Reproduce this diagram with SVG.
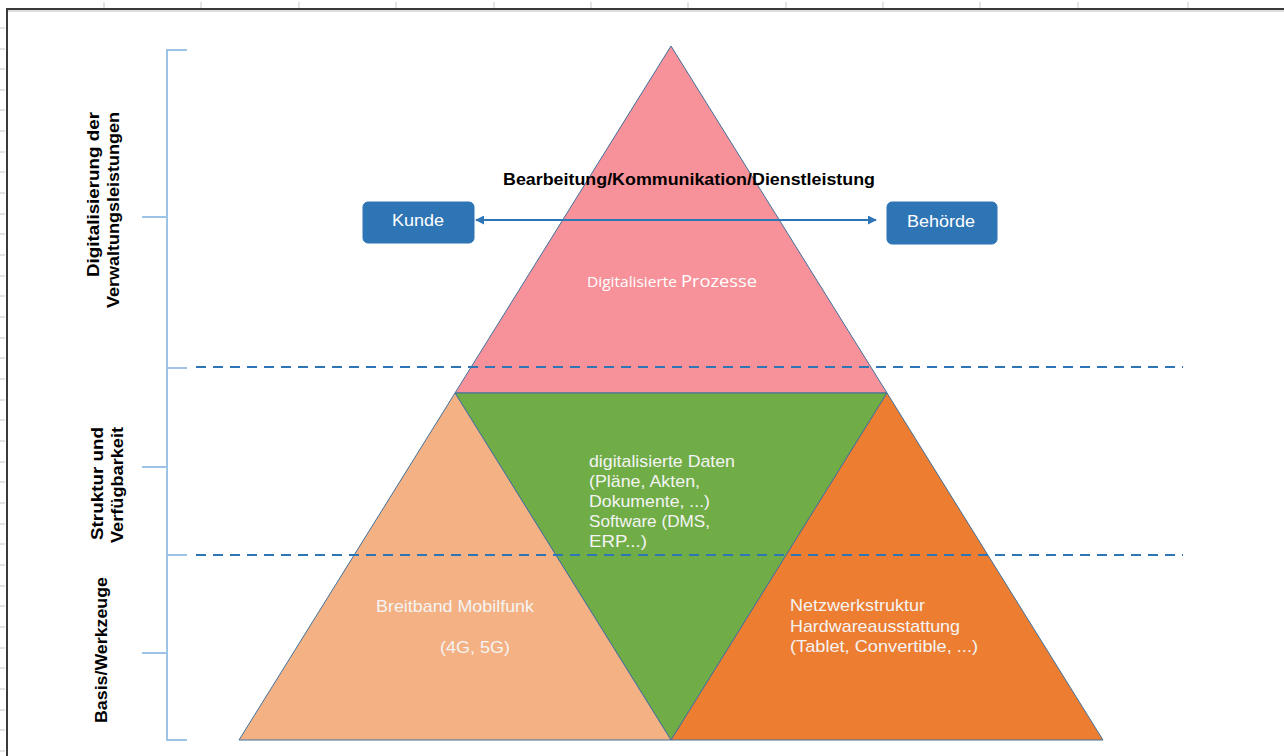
<svg xmlns="http://www.w3.org/2000/svg" width="1284" height="756" viewBox="0 0 1284 756">
<defs>
<style>
.tick{stroke:#c8c8c8;stroke-width:1}
.brk{stroke:#9dc3e6;stroke-width:2;fill:none}
.dash{stroke:#2e75b6;stroke-width:2;stroke-dasharray:10 7;fill:none}
.tri{stroke:#41719c;stroke-width:1}
.side{font-family:"Liberation Sans",Arial,sans-serif;font-weight:bold;font-size:16px;fill:#000}
.w{font-family:"Liberation Sans",Arial,sans-serif;font-size:17px;fill:#f4f4f4}
.box{fill:#2e75b6;stroke:#2e75b6}
.boxt{font-family:"Liberation Sans",Arial,sans-serif;font-size:17px;fill:#fff;text-anchor:middle}
</style>
<marker id="ah" viewBox="0 0 10 10" refX="9" refY="5" markerWidth="9" markerHeight="9" markerUnits="userSpaceOnUse" orient="auto-start-reverse">
<path d="M0,0 L10,5 L0,10 z" fill="#2e75b6"/>
</marker>
</defs>
<rect x="0" y="0" width="1284" height="756" fill="#fff"/>
<g id="frame">
<g class="tick">
<line x1="104" y1="2" x2="104" y2="8"/><line x1="201" y1="2" x2="201" y2="8"/><line x1="299" y1="2" x2="299" y2="8"/><line x1="396" y1="2" x2="396" y2="8"/><line x1="494" y1="2" x2="494" y2="8"/><line x1="591" y1="2" x2="591" y2="8"/><line x1="688" y1="2" x2="688" y2="8"/><line x1="786" y1="2" x2="786" y2="8"/><line x1="883" y1="2" x2="883" y2="8"/><line x1="980" y1="2" x2="980" y2="8"/><line x1="1078" y1="2" x2="1078" y2="8"/><line x1="1188" y1="2" x2="1188" y2="8"/>
<line x1="0" y1="28" x2="5" y2="28"/><line x1="0" y1="49" x2="5" y2="49"/><line x1="0" y1="69" x2="5" y2="69"/><line x1="0" y1="90" x2="5" y2="90"/><line x1="0" y1="110" x2="5" y2="110"/><line x1="0" y1="131" x2="5" y2="131"/><line x1="0" y1="152" x2="5" y2="152"/><line x1="0" y1="172" x2="5" y2="172"/><line x1="0" y1="193" x2="5" y2="193"/><line x1="0" y1="214" x2="5" y2="214"/><line x1="0" y1="234" x2="5" y2="234"/><line x1="0" y1="255" x2="5" y2="255"/><line x1="0" y1="276" x2="5" y2="276"/><line x1="0" y1="296" x2="5" y2="296"/><line x1="0" y1="317" x2="5" y2="317"/><line x1="0" y1="338" x2="5" y2="338"/><line x1="0" y1="358" x2="5" y2="358"/><line x1="0" y1="379" x2="5" y2="379"/><line x1="0" y1="400" x2="5" y2="400"/><line x1="0" y1="420" x2="5" y2="420"/><line x1="0" y1="441" x2="5" y2="441"/><line x1="0" y1="462" x2="5" y2="462"/><line x1="0" y1="482" x2="5" y2="482"/><line x1="0" y1="503" x2="5" y2="503"/><line x1="0" y1="524" x2="5" y2="524"/><line x1="0" y1="544" x2="5" y2="544"/><line x1="0" y1="565" x2="5" y2="565"/><line x1="0" y1="586" x2="5" y2="586"/><line x1="0" y1="606" x2="5" y2="606"/><line x1="0" y1="627" x2="5" y2="627"/><line x1="0" y1="648" x2="5" y2="648"/><line x1="0" y1="668" x2="5" y2="668"/><line x1="0" y1="689" x2="5" y2="689"/><line x1="0" y1="710" x2="5" y2="710"/><line x1="0" y1="730" x2="5" y2="730"/><line x1="0" y1="751" x2="5" y2="751"/>
</g>
<path d="M7,756 V9 H1284" fill="none" stroke="#3a3a3a" stroke-width="2"/>
<line x1="8" y1="11" x2="1284" y2="11" stroke="#bbb" stroke-width="1"/>
</g>
<g id="bracket">
<path class="brk" d="M187,50 H167 V740 H187 M142,217 H167 M167,368 H187 M142,467 H167 M167,555 H187 M142,653 H167"/>
</g>
<g id="labels-left">
<text class="side" transform="translate(99,112) rotate(-90)" text-anchor="end" textLength="165" lengthAdjust="spacingAndGlyphs">Digitalisierung der</text>
<text class="side" transform="translate(119,112) rotate(-90)" text-anchor="end" textLength="196" lengthAdjust="spacingAndGlyphs">Verwaltungsleistungen</text>
<text class="side" transform="translate(103,427) rotate(-90)" text-anchor="end" textLength="113" lengthAdjust="spacingAndGlyphs">Struktur und</text>
<text class="side" transform="translate(123,427) rotate(-90)" text-anchor="end" textLength="116" lengthAdjust="spacingAndGlyphs">Verfügbarkeit</text>
<text class="side" transform="translate(107,650) rotate(-90)" text-anchor="middle" textLength="146" lengthAdjust="spacingAndGlyphs">Basis/Werkzeuge</text>
</g>
<g id="tri-top"><polygon class="tri" points="671,46 887,393 455,393" fill="#f8929a"/></g>
<g id="tri-mid"><polygon class="tri" points="455,393 887,393 671,740" fill="#70ad47"/></g>
<g id="tri-left"><polygon class="tri" points="455,393 671,740 239,740" fill="#f4b183"/></g>
<g id="tri-right"><polygon class="tri" points="887,393 1103,740 671,740" fill="#ed7d31"/></g>
<g id="connectors">
<line class="dash" x1="196" y1="367" x2="1183" y2="367"/>
<line class="dash" x1="196" y1="555" x2="1183" y2="555"/>
<line x1="476" y1="220" x2="876" y2="220" stroke="#2e75b6" stroke-width="2" marker-start="url(#ah)" marker-end="url(#ah)"/>
</g>
<g id="title"><text x="503" y="185" font-family="Liberation Sans,Arial,sans-serif" font-weight="bold" font-size="17" fill="#000" textLength="372" lengthAdjust="spacingAndGlyphs">Bearbeitung/Kommunikation/Dienstleistung</text></g>
<g id="kunde"><rect class="box" x="363" y="202" width="111" height="41" rx="5"/><text class="boxt" x="418" y="226" textLength="52" lengthAdjust="spacingAndGlyphs">Kunde</text></g>
<g id="behoerde"><rect class="box" x="887" y="202" width="110" height="42" rx="5"/><text class="boxt" x="941" y="227" textLength="68" lengthAdjust="spacingAndGlyphs">Behörde</text></g>
<g id="txt-top"><text x="587" y="287" font-family="'Open Sans',sans-serif" fill="#fff" textLength="170" lengthAdjust="spacingAndGlyphs"><tspan font-size="14">Digitalisierte </tspan><tspan font-size="16.5">Prozesse</tspan></text></g>
<g id="txt-mid">
<text class="w" x="589" y="467" textLength="146" lengthAdjust="spacingAndGlyphs">digitalisierte Daten</text>
<text class="w" x="589" y="487" textLength="111" lengthAdjust="spacingAndGlyphs">(Pläne, Akten,</text>
<text class="w" x="589" y="507" textLength="121" lengthAdjust="spacingAndGlyphs">Dokumente, ...)</text>
<text class="w" x="589" y="527" textLength="121" lengthAdjust="spacingAndGlyphs">Software (DMS,</text>
<text class="w" x="589" y="547" textLength="58" lengthAdjust="spacingAndGlyphs">ERP...)</text>
</g>
<g id="txt-left">
<text class="w" x="376" y="612" textLength="158" lengthAdjust="spacingAndGlyphs">Breitband Mobilfunk</text>
<text class="w" x="440" y="653" textLength="70" lengthAdjust="spacingAndGlyphs">(4G, 5G)</text>
</g>
<g id="txt-right">
<text class="w" x="790" y="611" textLength="135" lengthAdjust="spacingAndGlyphs">Netzwerkstruktur</text>
<text class="w" x="790" y="632" textLength="170" lengthAdjust="spacingAndGlyphs">Hardwareausstattung</text>
<text class="w" x="790" y="652" textLength="188" lengthAdjust="spacingAndGlyphs">(Tablet, Convertible, ...)</text>
</g>
</svg>
